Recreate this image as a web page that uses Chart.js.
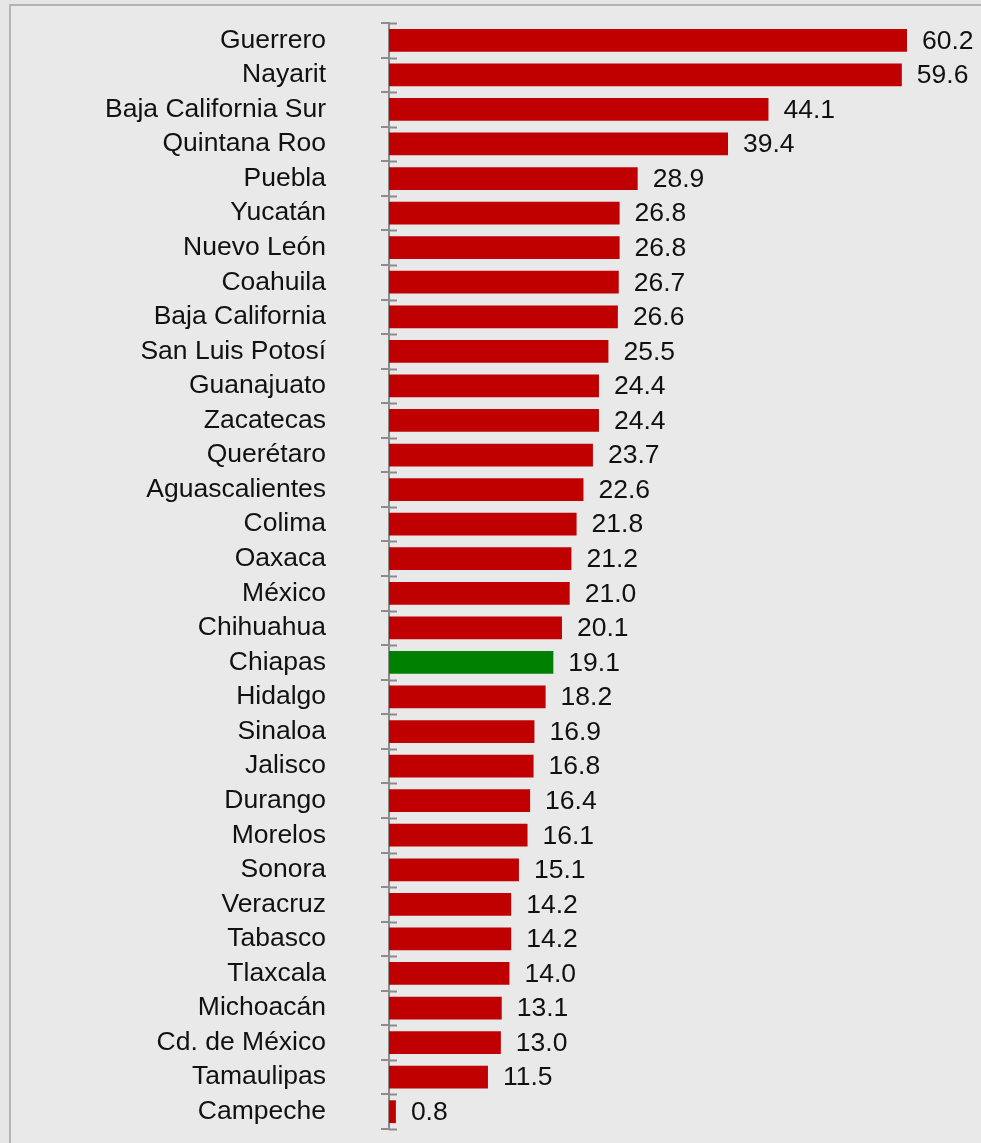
<!DOCTYPE html>
<html>
<head>
<meta charset="utf-8">
<script src="https://cdn.jsdelivr.net/npm/chart.js@4"></script>
<style>
  html, body { margin: 0; padding: 0; }
  body { width: 981px; height: 1143px; background: #e6e6e6; overflow: hidden; position: relative; }
  #frame { position: absolute; left: 9px; top: 4px; width: 1000px; height: 1200px;
           border: 2px solid #b4b4b4; background: #e9e9e9; box-sizing: border-box; }
  #chart { position: absolute; left: 0; top: 0; }
</style>
</head>
<body>
<div id="frame"></div>
<canvas id="chart" width="981" height="1143" style="width:981px;height:1143px"></canvas>
<script>
// estados y valores
const estados = ['Guerrero', 'Nayarit', 'Baja California Sur', 'Quintana Roo', 'Puebla', 'Yucatán',
  'Nuevo León', 'Coahuila', 'Baja California', 'San Luis Potosí', 'Guanajuato', 'Zacatecas',
  'Querétaro', 'Aguascalientes', 'Colima', 'Oaxaca', 'México', 'Chihuahua', 'Chiapas', 'Hidalgo',
  'Sinaloa', 'Jalisco', 'Durango', 'Morelos', 'Sonora', 'Veracruz', 'Tabasco', 'Tlaxcala',
  'Michoacán', 'Cd. de México', 'Tamaulipas', 'Campeche'];
const valores = [60.2, 59.6, 44.1, 39.4, 28.9, 26.8, 26.8, 26.7, 26.6, 25.5, 24.4, 24.4,
  23.7, 22.6, 21.8, 21.2, 21.0, 20.1, 19.1, 18.2, 16.9, 16.8, 16.4, 16.1, 15.1, 14.2, 14.2,
  14.0, 13.1, 13.0, 11.5, 0.8];
const destacado = 'Chiapas';

const ROJO = '#c00000';
const VERDE = '#008000';
const EJE = '#8c8c8c';
const FUENTE = "'Liberation Sans', Arial, sans-serif";

// etiquetas de valor al final de cada barra
const etiquetasValor = {
  id: 'etiquetasValor',
  afterDatasetsDraw(chart) {
    const ctx = chart.ctx;
    const meta = chart.getDatasetMeta(0);
    ctx.save();
    ctx.font = '26.5px ' + FUENTE;
    ctx.fillStyle = '#111';
    ctx.textAlign = 'left';
    ctx.textBaseline = 'middle';
    meta.data.forEach((bar, i) => {
      ctx.fillText(valores[i].toFixed(1), bar.x + 15, bar.y + 1);
    });
    ctx.restore();
  }
};

// marcas que cruzan el eje hacia la derecha
const marcasCruzadas = {
  id: 'marcasCruzadas',
  afterDraw(chart) {
    const y = chart.scales.y;
    const ctx = chart.ctx;
    const x0 = chart.chartArea.left;
    const paso = (y.bottom - y.top) / estados.length;
    ctx.save();
    ctx.strokeStyle = EJE;
    ctx.lineWidth = 2;
    for (let i = 0; i <= estados.length; i++) {
      const py = Math.round(y.top + i * paso) + 0.5;
      ctx.beginPath();
      ctx.moveTo(x0, py);
      ctx.lineTo(x0 + 8, py);
      ctx.stroke();
    }
    ctx.restore();
  }
};

new Chart(document.getElementById('chart'), {
  type: 'bar',
  data: {
    labels: estados,
    datasets: [{
      data: valores,
      backgroundColor: estados.map(e => e === destacado ? VERDE : ROJO),
      borderWidth: 0,
      barPercentage: 0.66,
      categoryPercentage: 1.0
    }]
  },
  options: {
    indexAxis: 'y',
    responsive: false,
    devicePixelRatio: 1,
    animation: false,
    layout: { padding: { top: 23, bottom: 14, left: 0, right: 0 } },
    plugins: { legend: { display: false }, tooltip: { enabled: false } },
    scales: {
      x: { display: false, min: 0, max: 68.8 },
      y: {
        // ancho fijo del eje y sin relleno vertical extra
        afterFit: s => { s.width = 389; s.paddingTop = 0; s.paddingBottom = 0; },
        grid: { drawOnChartArea: false, drawTicks: true, tickLength: 8, color: EJE, lineWidth: 2 },
        border: { display: true, color: EJE, width: 2 },
        ticks: { color: '#111', padding: 55, autoSkip: false, font: { size: 26.5, family: FUENTE } }
      }
    }
  },
  plugins: [etiquetasValor, marcasCruzadas]
});
</script>
</body>
</html>
